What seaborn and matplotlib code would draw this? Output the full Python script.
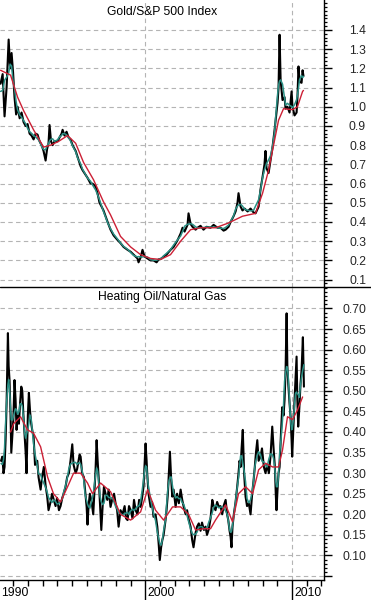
import numpy as np
import pandas as pd
import matplotlib
matplotlib.use("Agg")
import matplotlib.pyplot as plt
import matplotlib.transforms as mtransforms
from matplotlib.lines import Line2D
from matplotlib.ticker import FixedLocator, MultipleLocator, FixedFormatter
import seaborn as sns

# ---------------- data ----------------
gold_years = [1990.12,1990.26,1990.39,1990.53,1990.67,1990.77,1990.87,1990.97,1991.07,1991.18,
              1991.28,1991.42,1991.55,1991.69,1991.83,1991.96,1992.10,1992.23,1992.37,1992.51,
              1992.64,1992.78,1992.92,1993.05,1993.19,1993.29,1993.39,1993.46,1993.56,1993.67,
              1993.80,1994.01,1994.14,1994.28,1994.35,1994.48,1994.62,1994.76,1994.89,1995.03,
              1995.24,1995.37,1995.58,1995.71,1995.92,1996.05,1996.26,1996.39,1996.60,1996.73,
              1996.87,1997.01,1997.14,1997.28,1997.42,1997.62,1997.83,1998.10,1998.30,1998.51,
              1998.78,1998.99,1999.19,1999.46,1999.53,1999.67,1999.80,1999.94,2000.15,2000.35,
              2000.55,2000.76,2000.90,2001.10,2001.24,2001.44,2001.71,2001.92,2002.19,2002.40,
              2002.53,2002.67,2002.87,2002.94,2003.08,2003.21,2003.42,2003.55,2003.76,2003.96,
              2004.17,2004.44,2004.65,2004.92,2005.12,2005.33,2005.47,2005.67,2005.81,2006.01,
              2006.15,2006.28,2006.35,2006.49,2006.62,2006.76,2006.97,2007.17,2007.37,2007.51,
              2007.72,2007.85,2007.99,2008.12,2008.19,2008.26,2008.40,2008.53,2008.67,2008.81,
              2008.88,2009.01,2009.08,2009.15,2009.22,2009.35,2009.49,2009.56,2009.69,2009.83,
              2009.97,2010.03,2010.17,2010.31,2010.37,2010.44,2010.51,2010.65,2010.72,2010.78]
gold_ratio = [1.12,1.17,0.95,1.10,1.35,1.20,1.28,1.18,1.05,0.96,
              1.00,0.94,0.97,0.92,0.90,0.91,0.86,0.85,0.83,0.86,
              0.855,0.82,0.80,0.77,0.72,0.78,0.81,0.905,0.82,0.80,
              0.82,0.82,0.84,0.86,0.88,0.85,0.87,0.84,0.83,0.80,
              0.77,0.74,0.69,0.67,0.645,0.63,0.60,0.60,0.585,0.55,
              0.50,0.48,0.46,0.43,0.40,0.36,0.33,0.306,0.29,0.27,
              0.255,0.245,0.23,0.21,0.19,0.215,0.255,0.22,0.21,0.20,
              0.20,0.19,0.205,0.21,0.22,0.23,0.255,0.27,0.305,0.34,
              0.37,0.35,0.385,0.445,0.39,0.375,0.36,0.37,0.38,0.36,
              0.375,0.37,0.385,0.37,0.37,0.355,0.36,0.375,0.40,0.43,
              0.455,0.50,0.55,0.48,0.46,0.47,0.455,0.47,0.45,0.445,
              0.48,0.57,0.635,0.70,0.77,0.68,0.655,0.72,0.79,0.88,
              0.93,1.02,1.10,1.375,1.14,1.035,1.05,0.99,1.00,0.97,
              1.08,1.00,0.955,0.97,1.05,1.21,1.13,1.125,1.19,1.16]

gold_ma_years = [1990.12,1990.80,1991.28,1991.69,1992.37,1993.05,1993.53,1994.08,1994.69,1995.24,
                 1995.78,1996.46,1997.14,1997.62,1998.30,1998.99,1999.67,2000.35,2001.03,2001.71,
                 2002.40,2003.08,2003.76,2004.78,2005.67,2006.62,2007.51,2007.99,2008.40,2008.74,
                 2009.08,2009.42,2010.03,2010.37,2010.72,2010.78]
gold_ma = [1.19,1.165,1.05,0.98,0.88,0.79,0.80,0.82,0.85,0.81,
           0.71,0.62,0.505,0.437,0.325,0.27,0.23,0.21,0.205,0.23,
           0.30,0.36,0.37,0.37,0.395,0.43,0.445,0.55,0.67,0.80,
           0.93,0.99,0.985,1.00,1.08,1.085]

oil_years = [1990.15,1990.24,1990.32,1990.39,1990.46,1990.53,1990.62,1990.67,1990.73,1990.80,
             1990.85,1990.94,1990.99,1991.07,1991.14,1991.21,1991.28,1991.37,1991.45,1991.53,
             1991.60,1991.67,1991.76,1991.83,1991.89,1991.98,1992.05,1992.13,1992.21,1992.30,
             1992.37,1992.47,1992.62,1992.71,1992.85,1992.95,1993.07,1993.19,1993.30,1993.39,
             1993.53,1993.63,1993.75,1993.87,1993.97,1994.10,1994.21,1994.33,1994.42,1994.55,
             1994.66,1994.78,1994.89,1995.01,1995.10,1995.24,1995.34,1995.44,1995.51,1995.58,
             1995.68,1995.80,1995.88,1995.99,1996.05,1996.12,1996.21,1996.33,1996.44,1996.53,
             1996.60,1996.67,1996.74,1996.82,1996.91,1996.99,1997.08,1997.17,1997.28,1997.40,
             1997.49,1997.62,1997.76,1997.86,1997.96,1998.07,1998.17,1998.30,1998.44,1998.58,
             1998.68,1998.78,1998.88,1998.99,1999.12,1999.22,1999.33,1999.46,1999.57,1999.67,
             1999.77,1999.87,1999.94,2000.01,2000.08,2000.12,2000.21,2000.35,2000.45,2000.55,
             2000.69,2000.81,2000.90,2000.98,2001.07,2001.15,2001.24,2001.37,2001.44,2001.53,
             2001.61,2001.67,2001.75,2001.83,2001.92,2002.06,2002.16,2002.28,2002.40,2002.51,
             2002.60,2002.74,2002.84,2002.96,2003.08,2003.19,2003.28,2003.42,2003.52,2003.64,
             2003.76,2003.86,2003.99,2004.10,2004.20,2004.33,2004.44,2004.56,2004.65,2004.78,
             2004.89,2005.01,2005.12,2005.24,2005.33,2005.47,2005.57,2005.65,2005.74,2005.81,
             2005.87,2005.94,2006.03,2006.15,2006.26,2006.35,2006.42,2006.49,2006.56,2006.64,
             2006.73,2006.83,2006.93,2007.05,2007.17,2007.28,2007.37,2007.46,2007.54,2007.63,
             2007.72,2007.85,2007.95,2008.08,2008.19,2008.30,2008.42,2008.53,2008.65,2008.74,
             2008.83,2008.89,2008.94,2009.01,2009.08,2009.15,2009.25,2009.33,2009.42,2009.49,
             2009.56,2009.63,2009.68,2009.74,2009.83,2009.90,2009.97,2010.01,2010.08,2010.17,
             2010.24,2010.31,2010.36,2010.42,2010.50,2010.58,2010.65,2010.74,2010.81]
oil_ratio = [0.33,0.34,0.30,0.315,0.38,0.47,0.64,0.56,0.526,0.44,
             0.35,0.40,0.43,0.526,0.48,0.405,0.44,0.42,0.47,0.51,
             0.50,0.445,0.39,0.35,0.30,0.44,0.495,0.45,0.42,0.40,
             0.39,0.32,0.33,0.29,0.26,0.29,0.315,0.27,0.243,0.21,
             0.23,0.25,0.235,0.22,0.24,0.21,0.22,0.24,0.25,0.267,
             0.29,0.30,0.33,0.37,0.32,0.30,0.31,0.33,0.345,0.34,
             0.30,0.29,0.26,0.218,0.175,0.22,0.25,0.23,0.20,0.26,
             0.31,0.38,0.33,0.283,0.22,0.162,0.22,0.267,0.25,0.235,
             0.26,0.218,0.24,0.25,0.227,0.21,0.17,0.21,0.20,0.22,
             0.19,0.186,0.22,0.21,0.19,0.235,0.21,0.20,0.235,0.218,
             0.24,0.267,0.32,0.372,0.33,0.30,0.25,0.218,0.23,0.194,
             0.20,0.17,0.13,0.089,0.12,0.137,0.15,0.186,0.21,0.25,
             0.31,0.352,0.29,0.243,0.26,0.218,0.25,0.227,0.26,0.235,
             0.22,0.20,0.21,0.186,0.17,0.137,0.12,0.155,0.17,0.178,
             0.16,0.18,0.162,0.17,0.15,0.165,0.19,0.235,0.22,0.21,
             0.23,0.218,0.22,0.20,0.22,0.235,0.20,0.186,0.16,0.145,
             0.12,0.17,0.20,0.23,0.267,0.30,0.33,0.315,0.36,0.405,
             0.30,0.243,0.22,0.227,0.20,0.25,0.28,0.315,0.35,0.38,
             0.33,0.34,0.36,0.315,0.30,0.32,0.30,0.34,0.413,0.36,
             0.315,0.25,0.21,0.26,0.30,0.315,0.40,0.46,0.44,0.478,
             0.55,0.688,0.56,0.518,0.47,0.437,0.38,0.34,0.40,0.478,
             0.53,0.583,0.48,0.413,0.46,0.518,0.55,0.63,0.51]

oil_ma_years = [1990.80,1991.01,1991.48,1991.96,1992.37,1992.85,1993.33,1993.73,1994.21,1994.69,
                1995.10,1995.58,1996.05,1996.39,1996.94,1997.62,1998.30,1998.99,1999.67,2000.15,
                2000.69,2001.24,2001.85,2002.40,2002.94,2003.42,2003.96,2004.44,2004.78,2005.47,
                2005.94,2006.35,2006.83,2007.31,2007.72,2008.19,2008.67,2009.08,2009.35,2009.69,
                2010.03,2010.37,2010.72]
oil_ma = [0.40,0.42,0.437,0.405,0.397,0.364,0.29,0.25,0.23,0.267,
          0.30,0.30,0.276,0.25,0.276,0.255,0.20,0.186,0.206,0.26,
          0.21,0.186,0.218,0.218,0.20,0.162,0.165,0.165,0.186,0.223,
          0.182,0.25,0.267,0.25,0.308,0.324,0.315,0.315,0.356,0.437,
          0.43,0.453,0.485]

titles = ["Gold/S&P 500 Index", "Heating Oil/Natural Gas"]
gold_ticks = [0.1, 0.2, 0.3, 0.4, 0.5, 0.6, 0.7, 0.8, 0.9, 1.0, 1.1, 1.2, 1.3, 1.4]
gold_tick_labels = ["0.1", "0.2", "0.3", "0.4", "0.5", "0.6", "0.7", "0.8", "0.9", "1.0",
                    "1.1", "1.2", "1.3", "1.4"]
oil_ticks = [0.05, 0.10, 0.15, 0.20, 0.25, 0.30, 0.35, 0.40, 0.45, 0.50, 0.55, 0.60, 0.65, 0.70]
oil_tick_labels = ["", "0.10", "0.15", "0.20", "0.25", "0.30", "0.35", "0.40", "0.45", "0.50",
                   "0.55", "0.60", "0.65", "0.70"]
decade_years = [1990, 2000, 2010]
decade_labels = ["1990", "2000", "2010"]
minor_years = [1991, 1992, 1993, 1994, 1995, 1996, 1997, 1998, 1999, 2001, 2002, 2003,
               2004, 2005, 2006, 2007, 2008, 2009, 2011, 2012]

# ---------------- style ----------------
sns.set_style("white")
plt.rcParams['font.family'] = ['Liberation Sans', 'DejaVu Sans']

W, H = 371, 600
PX = 0.72  # points per pixel at dpi 100
BLACK = '#000000'
TEAL = '#2a8f84'
RED = '#cc2035'
GRID = '#b4b4b4'
FS = 8.7

fig = plt.figure(figsize=(W / 100, H / 100), dpi=100)
fig.patch.set_facecolor('white')
ax_w = 324 / W
ax1 = fig.add_axes([0, 313 / H, ax_w, 287 / H])
ax2 = fig.add_axes([0, 20 / H, ax_w, 293 / H])

XMIN, XMAX = 1990.08, 2012.18


def draw_panel(ax, years, vals, ma_years, ma_vals, title, ylim, ticks, labels, minor_step,
               title_off_px, height_px, show_x):
    df = pd.DataFrame({'year': years, 'value': vals})
    df['smooth'] = df['value'].rolling(5, center=True, min_periods=1).mean()
    ma = pd.DataFrame({'year': ma_years, 'value': ma_vals})
    sns.lineplot(data=df, x='year', y='value', ax=ax, color=BLACK, linewidth=1.5,
                 estimator=None, sort=False, legend=False, zorder=3)
    sns.lineplot(data=df, x='year', y='smooth', ax=ax, color=TEAL, linewidth=1.1,
                 estimator=None, sort=False, legend=False, zorder=4)
    sns.lineplot(data=ma, x='year', y='value', ax=ax, color=RED, linewidth=1.0,
                 estimator=None, sort=False, legend=False, zorder=5)
    ax.set_xlabel('')
    ax.set_ylabel('')
    ax.set_xlim(XMIN, XMAX)
    ax.set_ylim(*ylim)
    ax.set_facecolor('white')

    # y axis on the right
    ax.yaxis.tick_right()
    ax.yaxis.set_major_locator(FixedLocator(ticks))
    ax.yaxis.set_major_formatter(FixedFormatter(labels))
    ax.yaxis.set_minor_locator(MultipleLocator(minor_step))
    ax.tick_params(axis='y', which='major', direction='out', length=8 * PX, width=1.0,
                   color='black', labelsize=FS, pad=34 * PX, right=True, left=False,
                   labelright=True, labelleft=False)
    ax.tick_params(axis='y', which='minor', direction='out', length=3 * PX, width=0.9,
                   color='black', right=True, left=False)
    for t in ax.yaxis.get_major_ticks():
        t.label2.set_horizontalalignment('right')

    # x axis
    ax.xaxis.set_major_locator(FixedLocator([2000, 2010]))
    ax.xaxis.set_minor_locator(FixedLocator(minor_years))
    if show_x:
        ax.tick_params(axis='x', which='major', direction='out', length=20 * PX, width=1.0,
                       color='black', labelbottom=False, bottom=True)
        ax.tick_params(axis='x', which='minor', direction='out', length=6 * PX, width=1.0,
                       color='black', bottom=True)
    else:
        ax.tick_params(axis='x', which='both', length=0, labelbottom=False, bottom=False)

    ax.grid(True, axis='y', which='major', color=GRID, linestyle=(0, (4, 3)), linewidth=0.8)
    ax.grid(True, axis='x', which='major', color=GRID, linestyle=(0, (4, 3)), linewidth=0.8)
    ax.grid(False, which='minor')
    ax.set_axisbelow(True)

    for side in ['top', 'left']:
        ax.spines[side].set_visible(False)
    ax.spines['right'].set_visible(True)
    ax.spines['right'].set_color('black')
    ax.spines['right'].set_linewidth(1.0)
    ax.spines['bottom'].set_visible(show_x)
    ax.spines['bottom'].set_color('black')
    ax.spines['bottom'].set_linewidth(1.0)

    ax.text(0.5, 1 - title_off_px / height_px, title, transform=ax.transAxes,
            ha='center', va='center', fontsize=FS, color='black', zorder=6)


draw_panel(ax1, gold_years, gold_ratio, gold_ma_years, gold_ma, titles[0],
           (0.0615, 1.556), gold_ticks, gold_tick_labels, 0.02, 12, 287, False)
draw_panel(ax2, oil_years, oil_ratio, oil_ma_years, oil_ma, titles[1],
           (0.0405, 0.752), oil_ticks, oil_tick_labels, 0.01, 10, 293, True)

# decade labels below the bottom axis, left-aligned next to the long tick
trans = mtransforms.blended_transform_factory(ax2.transData, ax2.transAxes)
for yr, lab in zip(decade_years, decade_labels):
    ax2.text(yr + 0.17, -13 / 293, lab, transform=trans, ha='left', va='center',
             fontsize=FS, color='black', clip_on=False)

# divider line between panels across the full width
fig.add_artist(Line2D([0, 1], [313 / H, 313 / H], transform=fig.transFigure,
                      color='black', linewidth=1.0))

fig.savefig('out.png', dpi=100, facecolor='white')
